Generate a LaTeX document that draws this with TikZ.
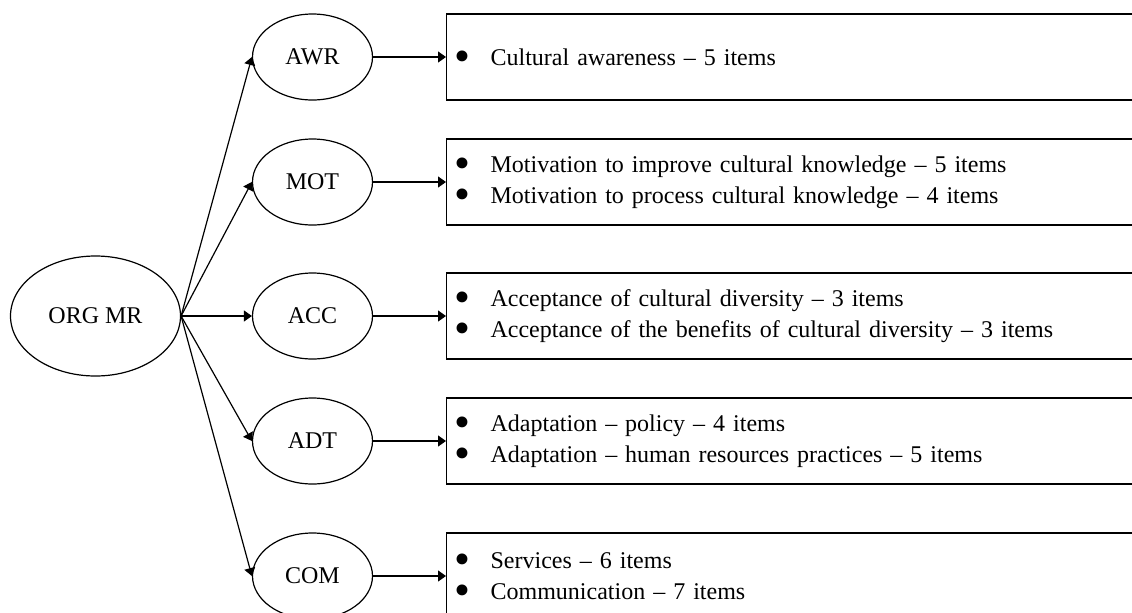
\documentclass[tikz,border=0pt]{standalone}
\usepackage{fontspec}
\setmainfont{Liberation Serif}
\usetikzlibrary{arrows.meta,shapes.geometric}
\begin{document}
\begin{tikzpicture}[x=0.5pt,y=-0.5pt,
  every node/.style={font=\fontsize{12}{15.5}\selectfont},
  ell/.style={draw,ellipse,line width=0.6pt,inner sep=0pt,minimum width=60pt,minimum height=43pt},
  bigell/.style={ell,minimum width=85pt,minimum height=60pt},
  itembox/.style={draw,rectangle,line width=0.6pt,anchor=west,inner xsep=0pt,inner ysep=0pt,
    minimum height=43pt,text width=350pt,align=left},
  arr/.style={line width=0.6pt,-{Triangle[length=4pt,width=5.5pt]}}
]
\useasboundingbox (0,0) rectangle (1132,612);
\clip (0,0) rectangle (1132,612);
\newcommand{\itm}[1]{\hspace*{4pt}\makebox[18pt][l]{\smash{\raisebox{-3.2pt}{\scalebox{1.9}{\textbullet}}}}#1}

\node[bigell] (org) at (95.5,316) {ORG MR};

\node[ell] (awr) at (312.5,57) {AWR};
\node[ell] (mot) at (312.5,182) {MOT};
\node[ell] (acc) at (312.5,316) {ACC};
\node[ell] (adt) at (312.5,441) {ADT};
\node[ell] (com) at (312.5,576) {COM};

\node[itembox] (awrbox) at (446,57) {\itm{Cultural awareness -- 5 items}};
\node[itembox] (motbox) at (446,182) {\itm{Motivation to improve cultural knowledge -- 5 items}\\\itm{Motivation to process cultural knowledge -- 4 items}};
\node[itembox] (accbox) at (446,316) {\itm{Acceptance of cultural diversity -- 3 items}\\\itm{Acceptance of the benefits of cultural diversity -- 3 items}};
\node[itembox] (adtbox) at (446,441) {\itm{Adaptation -- policy -- 4 items}\\\itm{Adaptation -- human resources practices -- 5 items}};
\node[itembox] (combox) at (446,576) {\itm{Services -- 6 items}\\\itm{Communication -- 7 items}};

\foreach \n in {awr,mot,acc,adt,com}{
  \draw[arr] (org.east) -- (\n.west);
  \draw[arr] (\n.east) -- (\n box.west);
}
\end{tikzpicture}
\end{document}
